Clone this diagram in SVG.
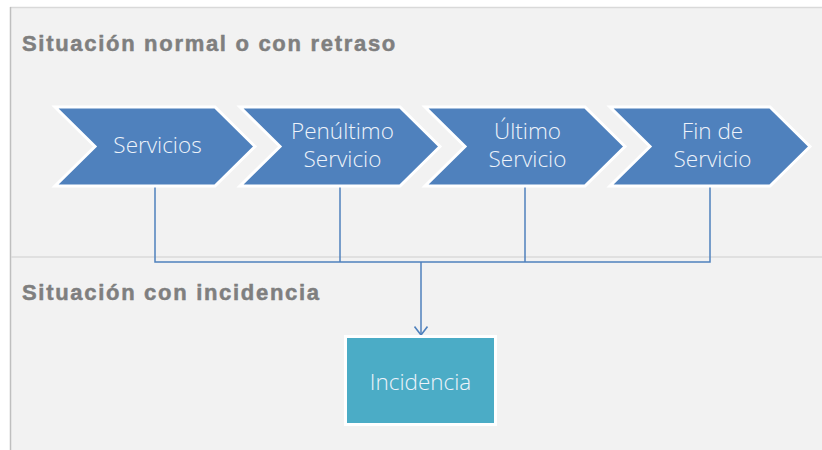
<svg xmlns="http://www.w3.org/2000/svg" width="822" height="450" viewBox="0 0 822 450">
<defs>
<style>
.title{font-family:"Liberation Sans",Arial,sans-serif;font-weight:bold;font-size:22px;fill:#7f7f7f;stroke:#7f7f7f;stroke-width:0.5;letter-spacing:1.7px}
.chev{fill:#4f81bd;stroke:#ffffff;stroke-width:3;stroke-linejoin:miter}
.lbl{font-family:"Open Sans","Noto Sans",sans-serif;font-weight:300;font-size:22.5px;fill:#eef3fa;text-anchor:middle}
.conn{fill:none;stroke:#4f81bd;stroke-width:1.5}
</style>
<marker id="arr" viewBox="0 0 10 14" refX="9" refY="7" markerWidth="10" markerHeight="14" markerUnits="userSpaceOnUse" orient="auto">
<path d="M0.5,0.5 L9,7 L0.5,13.5" fill="none" stroke="#4f81bd" stroke-width="1.6"/>
</marker>
</defs>
<rect x="0" y="0" width="822" height="450" fill="#ffffff"/>
<rect x="10.5" y="7.5" width="812" height="443" fill="#f2f2f2"/>
<line x1="10" y1="7.5" x2="822" y2="7.5" stroke="#d9d9d9" stroke-width="1.5"/>
<line x1="10.5" y1="7" x2="10.5" y2="450" stroke="#bfbfbf" stroke-width="1.5"/>
<line x1="11" y1="257" x2="822" y2="257" stroke="#dadada" stroke-width="1.5"/>
<text class="title" x="22" y="51">Situación normal o con retraso</text>
<text class="title" x="22" y="300">Situación con incidencia</text>
<g id="connectors">
<path class="conn" d="M155,186 V262 H710 V186"/>
<path class="conn" d="M340,186 V262"/>
<path class="conn" d="M525,186 V262"/>
<path class="conn" d="M421,262 V335" marker-end="url(#arr)"/>
</g>
<g id="servicios">
<path class="chev" d="M55,107 H215 L255,146.5 L215,186 H55 L95,146.5 Z"/>
<text class="lbl" x="157.5" y="153">Servicios</text>
</g>
<g id="penultimo">
<path class="chev" d="M240,107 H400 L440,146.5 L400,186 H240 L280,146.5 Z"/>
<text class="lbl" x="342.5" y="139">Penúltimo</text>
<text class="lbl" x="342.5" y="167">Servicio</text>
</g>
<g id="ultimo">
<path class="chev" d="M425,107 H585 L625,146.5 L585,186 H425 L465,146.5 Z"/>
<text class="lbl" x="527.5" y="139">Último</text>
<text class="lbl" x="527.5" y="167">Servicio</text>
</g>
<g id="fin">
<path class="chev" d="M610,107 H770 L810,146.5 L770,186 H610 L650,146.5 Z"/>
<text class="lbl" x="712.5" y="139">Fin de</text>
<text class="lbl" x="712.5" y="167">Servicio</text>
</g>
<g id="incidencia">
<rect x="345.5" y="336.5" width="150" height="88" fill="#4bacc6" stroke="#ffffff" stroke-width="3"/>
<text class="lbl" x="420.5" y="390">Incidencia</text>
</g>
</svg>
